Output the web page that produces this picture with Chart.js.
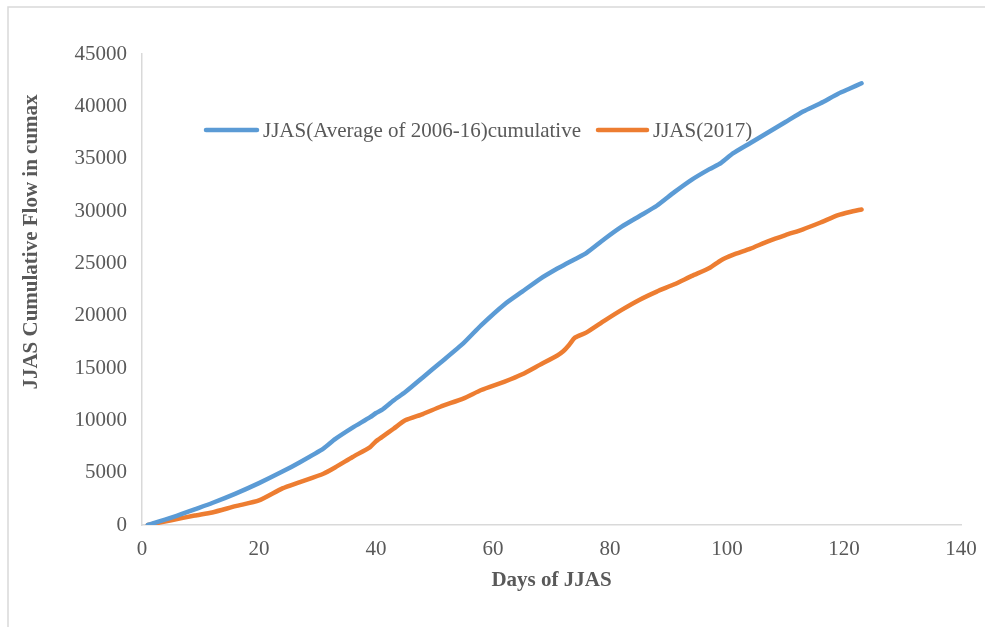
<!DOCTYPE html>
<html>
<head>
<meta charset="utf-8">
<script src="https://cdn.jsdelivr.net/npm/chart.js@4.4.1/dist/chart.umd.min.js"></script>
<style>
  html, body { margin: 0; padding: 0; background: #ffffff; }
  #wrap { position: relative; width: 985px; height: 627px; }
</style>
</head>
<body>
<div id="wrap"><canvas id="c" width="985" height="627"></canvas></div>
<script>
// ---- data ----
const days = [1, 5, 9, 12, 16, 20, 24, 27, 31, 33, 36, 39, 40, 41, 43, 45, 48, 51, 55, 58, 62, 65, 68, 71, 72, 73, 74, 76, 79, 82, 85, 88, 91, 94, 97, 99, 101, 104, 107, 110, 113, 116, 119, 121, 123];
const avgCumulative = [0, 700, 1500, 2100, 3000, 4000, 5100, 6000, 7300, 8200, 9300, 10300, 10700, 11000, 11900, 12700, 14100, 15500, 17400, 19100, 21100, 22300, 23500, 24500, 24800, 25100, 25400, 26000, 27300, 28500, 29500, 30500, 31800, 33000, 34000, 34600, 35500, 36500, 37500, 38500, 39500, 40300, 41200, 41700, 42200];
const flow2017 = [0, 450, 900, 1200, 1800, 2350, 3500, 4100, 4900, 5500, 6500, 7450, 8000, 8400, 9200, 10000, 10600, 11300, 12100, 12900, 13700, 14400, 15300, 16200, 16600, 17200, 17900, 18400, 19500, 20550, 21500, 22300, 23000, 23800, 24550, 25300, 25800, 26400, 27100, 27700, 28250, 28900, 29600, 29900, 30150];
const seriesNames = ['JJAS(Average of 2006-16)cumulative', 'JJAS(2017)'];
const xTitle = 'Days of JJAS';
const yTitle = 'JJAS Cumulative Flow in cumax';
const xMin = 0, xMax = 140, xStep = 20;
const yMin = 0, yMax = 45000, yStep = 5000;

const BLUE = '#5B9BD5', ORANGE = '#ED7D31', TXT = '#595959', AXIS = '#D9D9D9';
const FONT = '"Liberation Serif", "Times New Roman", serif';

const decor = {
  id: 'decor',
  beforeDraw(chart) {
    const ctx = chart.ctx;
    ctx.save();
    ctx.fillStyle = '#ffffff';
    ctx.fillRect(0, 0, chart.width, chart.height);
    ctx.strokeStyle = AXIS;
    ctx.lineWidth = 1.5;
    ctx.strokeRect(8, 7, 1100, 700);
    ctx.restore();
  },
  afterDraw(chart) {
    const ctx = chart.ctx;
    const ca = chart.chartArea;
    ctx.save();
    // axis titles
    ctx.fillStyle = TXT;
    ctx.font = 'bold 21px ' + FONT;
    ctx.textAlign = 'center';
    ctx.textBaseline = 'middle';
    ctx.fillText(xTitle, (ca.left + ca.right) / 2, 581);
    ctx.translate(32, 242);
    ctx.rotate(-Math.PI / 2);
    ctx.fillText(yTitle, 0, 0);
    ctx.restore();
    // legend
    ctx.save();
    ctx.font = '21px ' + FONT;
    ctx.textBaseline = 'middle';
    ctx.textAlign = 'left';
    ctx.lineCap = 'round';
    ctx.lineWidth = 4.5;
    const items = [
      { x0: 206, x1: 257, tx: 263, color: BLUE, label: seriesNames[0] },
      { x0: 598, x1: 647, tx: 653, color: ORANGE, label: seriesNames[1] }
    ];
    const ly = 130;
    items.forEach(it => {
      ctx.strokeStyle = it.color;
      ctx.beginPath();
      ctx.moveTo(it.x0, ly);
      ctx.lineTo(it.x1, ly);
      ctx.stroke();
      ctx.fillStyle = TXT;
      ctx.fillText(it.label, it.tx, ly + 1);
    });
    ctx.restore();
  }
};

new Chart(document.getElementById('c'), {
  type: 'line',
  data: {
    datasets: [
      {
        label: seriesNames[0],
        data: days.map((d, i) => ({ x: d, y: avgCumulative[i] })),
        borderColor: BLUE,
        borderWidth: 4.5,
        pointRadius: 0,
        tension: 0.2,
        borderCapStyle: 'round',
        borderJoinStyle: 'round',
        fill: false
      },
      {
        label: seriesNames[1],
        data: days.map((d, i) => ({ x: d, y: flow2017[i] })),
        borderColor: ORANGE,
        borderWidth: 4.5,
        pointRadius: 0,
        tension: 0.2,
        borderCapStyle: 'round',
        borderJoinStyle: 'round',
        fill: false
      }
    ]
  },
  options: {
    responsive: false,
    animation: false,
    layout: { padding: { top: 54, right: 24, left: 0, bottom: 0 } },
    plugins: { legend: { display: false }, tooltip: { enabled: false } },
    scales: {
      x: {
        type: 'linear',
        min: xMin, max: xMax,
        ticks: { stepSize: xStep, color: TXT, font: { family: FONT, size: 21 }, padding: 12, maxRotation: 0,
                 callback: v => String(v) },
        grid: { color: 'rgba(0,0,0,0)', drawTicks: false },
        border: { display: true, color: AXIS, width: 1.5 },
        afterFit(s) { s.height = 102; s.paddingLeft = 0; s.paddingRight = 0; }
      },
      y: {
        min: yMin, max: yMax,
        ticks: { stepSize: yStep, color: TXT, font: { family: FONT, size: 21 }, padding: 15,
                 callback: v => String(v) },
        grid: { color: 'rgba(0,0,0,0)', drawTicks: false },
        border: { display: true, color: AXIS, width: 1.5 },
        afterFit(s) { s.width = 142; s.paddingTop = 0; s.paddingBottom = 0; }
      }
    }
  },
  plugins: [decor]
});
</script>
</body>
</html>
